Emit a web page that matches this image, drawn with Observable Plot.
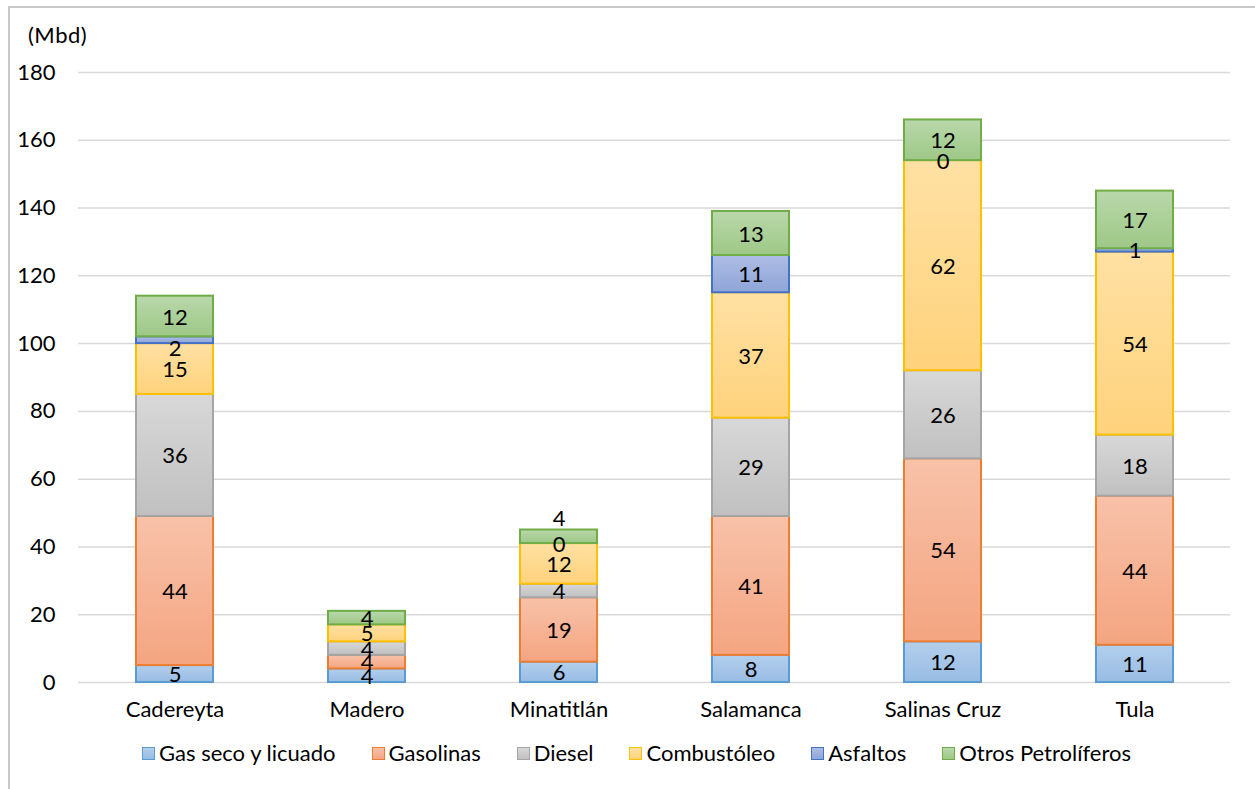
<!DOCTYPE html>
<html>
<head>
<meta charset="utf-8">
<script src="https://cdn.jsdelivr.net/npm/d3@7"></script>
<script src="https://cdn.jsdelivr.net/npm/@observablehq/plot@0.6"></script>
<style>
  html, body { margin: 0; padding: 0; background: #fff; }
  body { width: 1255px; height: 789px; position: relative; overflow: hidden; font-family: Lato, "Noto Sans", sans-serif; color: #000; }
  #frame { position: absolute; left: 8px; top: 6px; width: 1300px; height: 820px; border-left: 2px solid #c8c8c8; border-top: 2px solid #c8c8c8; box-sizing: border-box; }
  #unit { position: absolute; left: 28px; top: 21px; font-size: 22px; letter-spacing: 0.5px; }
  #chart { position: absolute; left: 0; top: 50px; }
  #legend { position: absolute; left: 0; top: 739px; width: 1255px; display: flex; justify-content: center; gap: 36px; font-size: 22px; line-height: 28px; padding-left: 18px; box-sizing: border-box; }
  .item { display: flex; align-items: center; gap: 4px; }
  .sw { width: 11px; height: 11px; border: 1.5px solid; }
</style>
</head>
<body>
<div id="frame"></div>
<div id="unit">(Mbd)</div>
<div id="chart"></div>
<div id="legend"></div>
<script>
// Refineries (x categories)
const plants = ["Cadereyta", "Madero", "Minatitlán", "Salamanca", "Salinas Cruz", "Tula"];

// Products, in stacking order (bottom to top)
const products = ["Gas seco y licuado", "Gasolinas", "Diesel", "Combustóleo", "Asfaltos", "Otros Petrolíferos"];

// Output per refinery, Mbd (null = not reported)
const gasSeco      = [5, 4, 6, 8, 12, 11];
const gasolinas    = [44, 4, 19, 41, 54, 44];
const diesel       = [36, 4, 4, 29, 26, 18];
const combustoleo  = [15, 5, 12, 37, 62, 54];
const asfaltos     = [2, null, 0, 11, 0, 1];
const otros        = [12, 4, 4, 13, 12, 17];

const yTicks = [0, 20, 40, 60, 80, 100, 120, 140, 160, 180];

const seriesValues = [gasSeco, gasolinas, diesel, combustoleo, asfaltos, otros];

// Fill gradients (top, bottom) and outline colour for each product
const palette = [
  {top: "#b3cfec", bottom: "#98bce4", stroke: "#5b9bd5"},
  {top: "#f8c2a9", bottom: "#f4a581", stroke: "#ed7d31"},
  {top: "#d8d8d8", bottom: "#c0c0c0", stroke: "#a5a5a5"},
  {top: "#ffe1a3", bottom: "#ffd27c", stroke: "#ffc000"},
  {top: "#aebde5", bottom: "#8ea5d8", stroke: "#4472c4"},
  {top: "#b9d8aa", bottom: "#9ec887", stroke: "#70ad47"}
];

// Label nudges (px) for thin segments whose labels would collide
const labelNudge = {
  "Minatitlán|Otros Petrolíferos": -19,
  "Cadereyta|Asfaltos": 8
};

// Long table with stacked extents per refinery
const rows = [];
plants.forEach((plant, i) => {
  let base = 0;
  products.forEach((product, s) => {
    const v = seriesValues[s][i];
    if (v == null) return;
    rows.push({plant, product, s, value: v, y1: base, y2: base + v,
               nudge: labelNudge[`${plant}|${product}`] || 0});
    base += v;
  });
});

const font = "Lato, 'Noto Sans', sans-serif";
const fs = 22;

const chart = Plot.plot({
  width: 1255,
  height: 690,
  marginLeft: 78,
  marginRight: 25,
  marginTop: 22,
  marginBottom: 58,
  style: {fontFamily: font, fontSize: fs + "px", color: "#000", background: "transparent"},
  x: {domain: plants, paddingInner: 0.6, paddingOuter: 0.3, label: null},
  y: {domain: [0, 180], label: null},
  marks: [
    Plot.gridY(yTicks, {stroke: "#d9d9d9", strokeOpacity: 1, strokeWidth: 1.5}),
    ...products.map((p, s) => Plot.barY(rows.filter(d => d.s === s), {
      x: "plant", y1: "y1", y2: "y2",
      fill: `url(#grad${s})`, stroke: palette[s].stroke, strokeWidth: 2
    })),
    ...[...new Set(rows.map(d => d.nudge))].map(n => Plot.text(rows.filter(d => d.nudge === n), {
      x: "plant", y: d => (d.y1 + d.y2) / 2, text: d => String(d.value),
      fontSize: fs, fill: "#000", fontFamily: font, dy: 1 + n
    })),
    Plot.axisY(yTicks, {tickSize: 0, tickPadding: 23, fontSize: fs, fill: "#000"}),
    Plot.axisX({tickSize: 0, tickPadding: 19, fontSize: fs, fill: "#000"})
  ]
});

// vertical gradients for bar fills
const defs = d3.select(chart).insert("defs", ":first-child");
palette.forEach((p, s) => {
  const g = defs.append("linearGradient").attr("id", `grad${s}`)
    .attr("x1", 0).attr("y1", 0).attr("x2", 0).attr("y2", 1);
  g.append("stop").attr("offset", "0%").attr("stop-color", p.top);
  g.append("stop").attr("offset", "100%").attr("stop-color", p.bottom);
});

document.getElementById("chart").appendChild(chart);

// legend
const legend = d3.select("#legend");
products.forEach((p, s) => {
  const item = legend.append("div").attr("class", "item");
  item.append("div").attr("class", "sw")
    .style("border-color", palette[s].stroke)
    .style("background", `linear-gradient(${palette[s].top}, ${palette[s].bottom})`);
  item.append("span").text(p);
});
</script>
</body>
</html>
